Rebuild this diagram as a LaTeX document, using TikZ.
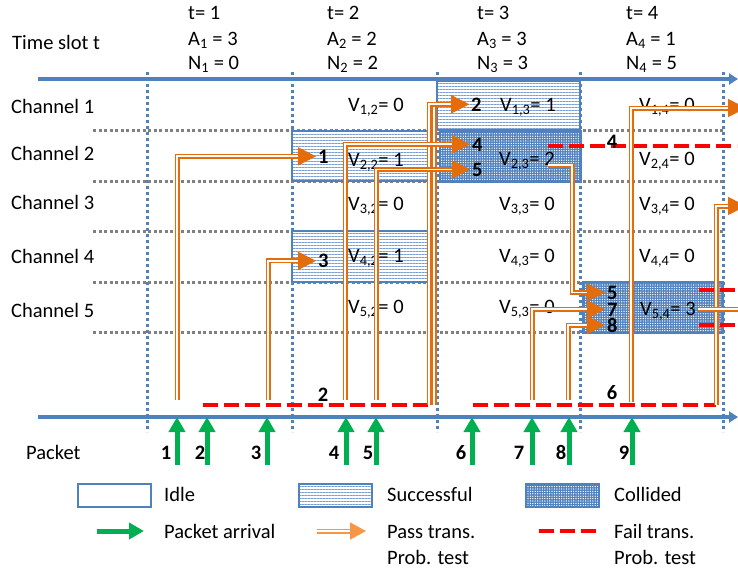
\documentclass[tikz,border=0pt]{standalone}
\usepackage{fontspec}
\setmainfont{Carlito}
\usetikzlibrary{arrows.meta,patterns.meta}
\definecolor{axisblue}{RGB}{79,129,189}
\definecolor{boxblue}{RGB}{79,129,189}
\definecolor{succblue}{RGB}{120,158,212}
\definecolor{collblue}{RGB}{79,129,189}
\definecolor{gridgray}{RGB}{128,128,128}
\definecolor{passorange}{RGB}{228,108,10}
\definecolor{legorange}{RGB}{247,150,70}
\definecolor{arrgreen}{RGB}{0,176,80}
\definecolor{failred}{RGB}{255,0,0}
\begin{document}
\begin{tikzpicture}[x=1pt,y=-1pt,
  every node/.style={inner sep=0pt, font=\fontsize{20.5}{24}\selectfont},
  lbl/.style={anchor=base west},
  numlbl/.style={anchor=base west, inner xsep=2pt, font=\fontsize{20.5}{24}\selectfont\bfseries},
  pktlbl/.style={anchor=base, font=\fontsize{20.5}{24}\selectfont\bfseries},
  axisline/.style={draw=axisblue, line width=3.5pt, -{Triangle[length=9pt,width=11pt]}},
  slotline/.style={draw=axisblue, line width=3pt, dash pattern=on 3pt off 3pt},
  chanline/.style={draw=gridgray, line width=3pt, dash pattern=on 3pt off 2.5pt},
  idlebox/.style={draw=boxblue, line width=1.8pt, fill=white},
  succbox/.style={draw=boxblue, line width=1.8pt, preaction={fill=white},
     pattern={Lines[angle=0,distance=3pt,line width=1pt]}, pattern color=succblue},
  collbox/.style={draw=boxblue, line width=1.8pt, preaction={fill=collblue},
     pattern={Dots[distance=2.4pt,radius=0.7pt]}, pattern color=white},
  pass/.style={draw=passorange, double=white, double distance=1.8pt, line width=1.6pt,
     -{Triangle[length=18pt,width=18pt]}},
  legpass/.style={draw=legorange, double=white, double distance=1.8pt, line width=1.6pt,
     -{Triangle[length=16pt,width=17pt]}},
  fail/.style={draw=failred, line width=4pt, dash pattern=on 15pt off 6pt},
  arrival/.style={draw=arrgreen, line width=5pt, -{Triangle[length=15pt,width=16pt]}}
]
\useasboundingbox (0,0) rectangle (738,573);

% slot boundaries and channel separators
\foreach \x in {147,292,437,580,723} \draw[slotline] (\x,72) -- (\x,432);
\foreach \y in {130,181,231,282,332} \draw[chanline] (93,\y) -- (723,\y);

% channel states
\draw[succbox] (437,81) rectangle (580,130);
\draw[succbox] (292,131) rectangle (436,181);
\draw[succbox] (292,231) rectangle (436,282);
\draw[collbox] (440,131) rectangle (581,182);
\draw[collbox] (583,282) rectangle (723,333);

% time axes
\coordinate (ax1a) at (38,79);  \coordinate (ax1b) at (738,79);
\coordinate (ax2a) at (38,417); \coordinate (ax2b) at (738,417);
\draw[axisline] (ax1a) -- (ax1b);
\draw[axisline] (ax2a) -- (ax2b);

% header
\node[lbl] (ts) at (12,49) {Time slot t};
\node[lbl] (t1) at (188,19.5) {t= 1};
\node[lbl] (a1) at (188,45) {A\textsubscript{1} = 3};
\node[lbl] (m1) at (188,69) {N\textsubscript{1} = 0};
\node[lbl] (t2) at (327,19.5) {t= 2};
\node[lbl] (a2) at (327,45) {A\textsubscript{2} = 2};
\node[lbl] (m2) at (327,69) {N\textsubscript{2} = 2};
\node[lbl] (t3) at (477,19.5) {t= 3};
\node[lbl] (a3) at (477,45) {A\textsubscript{3} = 3};
\node[lbl] (m3) at (477,69) {N\textsubscript{3} = 3};
\node[lbl] (t4) at (626,19.5) {t= 4};
\node[lbl] (a4) at (626,45) {A\textsubscript{4} = 1};
\node[lbl] (m4) at (626,69) {N\textsubscript{4} = 5};

% channel names
\node[lbl] (c1) at (11,113) {Channel 1};
\node[lbl] (c2) at (11,160.5) {Channel 2};
\node[lbl] (c3) at (11,209) {Channel 3};
\node[lbl] (c4) at (11,263) {Channel 4};
\node[lbl] (c5) at (11,317) {Channel 5};

% V values
\node[lbl] (v12) at (348,111) {V\textsubscript{1,2}= 0};
\node[lbl] (v22) at (348,166) {V\textsubscript{2,2}= 1};
\node[lbl] (v32) at (348,210) {V\textsubscript{3,2}= 0};
\node[lbl] (v42) at (348,262) {V\textsubscript{4,2}= 1};
\node[lbl] (v52) at (348,313) {V\textsubscript{5,2}= 0};
\node[lbl] (v13) at (500,111) {V\textsubscript{1,3}= 1};
\node[lbl] (v23) at (499,165) {V\textsubscript{2,3}= 2};
\node[lbl] (v33) at (499,210) {V\textsubscript{3,3}= 0};
\node[lbl] (v43) at (499,262) {V\textsubscript{4,3}= 0};
\node[lbl] (v53) at (499,313) {V\textsubscript{5,3}= 0};
\node[lbl] (v14) at (639,111) {V\textsubscript{1,4}= 0};
\node[lbl] (v24) at (639,165) {V\textsubscript{2,4}= 0};
\node[lbl] (v34) at (639,210) {V\textsubscript{3,4}= 0};
\node[lbl] (v44) at (639,262) {V\textsubscript{4,4}= 0};
\node[lbl] (v54) at (640,315) {V\textsubscript{5,4}= 3};

% failed probability tests
\coordinate (f2a) at (203,405); \coordinate (f2b) at (432,405);
\coordinate (f6a) at (473,405); \coordinate (f6b) at (716,405);
\coordinate (f4a) at (548,146); \coordinate (f4b) at (737,146);
\coordinate (fxa) at (699,290); \coordinate (fxb) at (737,290);
\coordinate (fya) at (699,325); \coordinate (fyb) at (737,325);
\draw[fail] (f2a) -- (f2b);
\draw[fail] (f6a) -- (f6b);
\draw[fail] (f4a) -- (f4b);
\draw[fail] (fxa) -- (fxb);
\draw[fail] (fya) -- (fyb);
\node[pktlbl] (r2) at (323,401) {2};
\node[pktlbl] (r6) at (612,399) {6};
\node[pktlbl] (r4) at (612,148) {4};

% transmission target labels
\node[numlbl] (n1) at (316,163) {1};
\node[numlbl] (n2) at (469,111) {2};
\node[numlbl] (n3) at (316,267.5) {3};
\node[numlbl] (n4) at (470,151) {4};
\node[numlbl] (n5) at (470,176) {5};
\node[numlbl] (n5b) at (605,299) {5};
\node[numlbl] (n7) at (605,316) {7};
\node[numlbl] (n8) at (605,332) {8};

% passed probability tests
\coordinate (b1) at (177,400);
\coordinate (b2) at (429,405);
\coordinate (b2x) at (434,405);
\coordinate (b3) at (268,400);
\coordinate (b4) at (345,400);
\coordinate (b5) at (376,400);
\coordinate (b7) at (532,400);
\coordinate (b8) at (568,400);
\coordinate (b9) at (631,402);
\coordinate (b6) at (716,405);
\coordinate (s5) at (548,165);
\coordinate (k5) at (572,165);
\coordinate (s54) at (698,309);
\coordinate (o9) at (746,108);
\coordinate (o6) at (746,206);
\coordinate (o54) at (762,309);
\draw[pass] (b2x) |- (n2.west);
\draw[pass] (b2) |- (n2.west);
\draw[pass] (b1) |- (n1.west);
\draw[pass] (b3) |- (n3.west);
\draw[pass] (b4) |- (n4.west);
\draw[pass] (b5) |- (n5.west);
\draw[pass] (s5) -- (k5) |- (n5b.west);
\draw[pass] (b7) |- (n7.west);
\draw[pass] (b8) |- (n8.west);
\draw[pass] (b9) |- (o9);
\draw[pass] (b6) |- (o6);
\draw[pass] (s54) -- (o54);

% packet arrivals
\foreach \i/\x/\lx in {1/177/166,2/207/200,3/267/256,4/346/334,5/376/368,6/472/461,7/532/519,8/569/561,9/632/624}{
  \coordinate (g\i) at (\x,465);
  \coordinate (h\i) at (\x,417);
  \draw[arrival] (g\i) -- (h\i);
  \node[pktlbl] (p\i) at (\lx,459) {\i};
}
\node[lbl] (pk) at (26,459) {Packet};

% legend
\draw[idlebox] (78,484) rectangle (151,507);
\node[lbl] (lidle) at (164,501) {Idle};
\draw[succbox] (299,484) rectangle (372,507);
\node[lbl] (lsucc) at (387,501) {Successful};
\draw[collbox] (526,484) rectangle (599,507);
\node[lbl] (lcoll) at (614,501) {Collided};
\coordinate (lga) at (97,531); \coordinate (lgb) at (144,531);
\draw[arrival] (lga) -- (lgb);
\node[lbl] (larr) at (164,538) {Packet arrival};
\coordinate (loa) at (317,531); \coordinate (lob) at (366,531);
\draw[legpass] (loa) -- (lob);
\node[lbl] (lpass) at (387,538) {Pass trans.};
\node[lbl] (lpass2) at (387,564) {Prob. test};
\coordinate (lra) at (539,531); \coordinate (lrb) at (597,531);
\draw[fail] (lra) -- (lrb);
\node[lbl] (lfail) at (614,538) {Fail trans.};
\node[lbl] (lfail2) at (614,564) {Prob. test};
\end{tikzpicture}
\end{document}
